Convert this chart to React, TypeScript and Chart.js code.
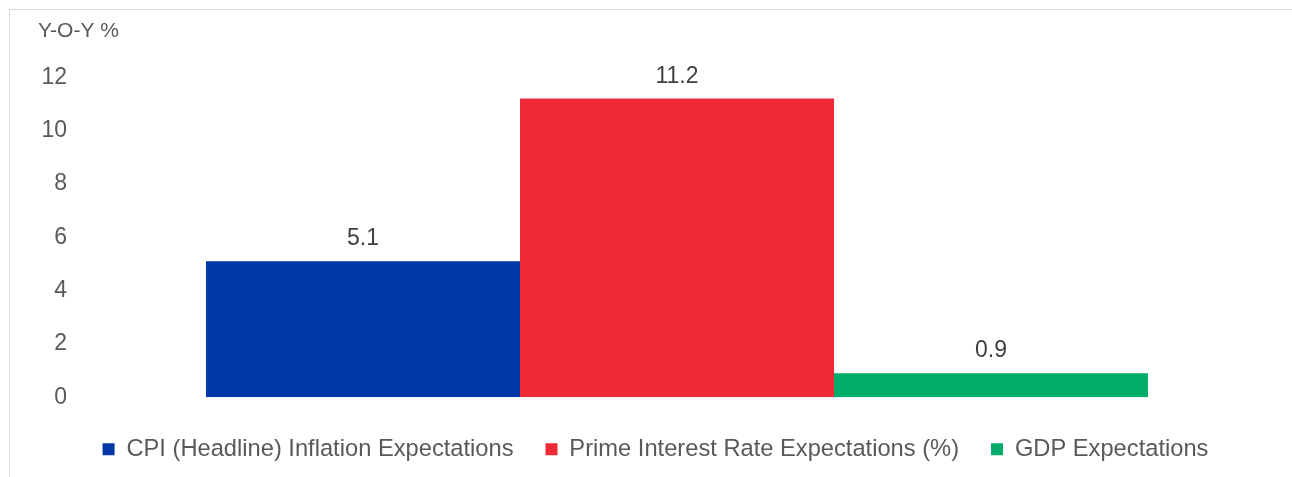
import React, { useEffect, useRef } from "react";
import { Chart, registerables } from "chart.js";

Chart.register(...registerables);

const categories: string[] = [""];
const seriesNames: string[] = [
  "CPI (Headline) Inflation Expectations",
  "Prime Interest Rate Expectations (%)",
  "GDP Expectations",
];
const cpiValues: number[] = [5.1];
const primeValues: number[] = [11.2];
const gdpValues: number[] = [0.9];
const seriesColors: string[] = ["#0038A8", "#EE2A36", "#00AC6A"];
const yTickValues: number[] = [0, 2, 4, 6, 8, 10, 12];
const unitLabel = "Y-O-Y %";

const FONT = "'Liberation Sans', Arial, sans-serif";

const dataLabelPlugin = {
  id: "dataLabels",
  afterDatasetsDraw(chart: any) {
    const ctx = chart.ctx;
    ctx.save();
    ctx.font = `23px ${FONT}`;
    ctx.fillStyle = "#404040";
    ctx.textAlign = "center";
    ctx.textBaseline = "alphabetic";
    chart.data.datasets.forEach((ds: any, i: number) => {
      const meta = chart.getDatasetMeta(i);
      meta.data.forEach((el: any, j: number) => {
        const v = ds.data[j];
        ctx.fillText(String(v), el.x, el.y - 16);
      });
    });
    ctx.restore();
  },
};

export default function App() {
  const ref = useRef<HTMLCanvasElement | null>(null);

  useEffect(() => {
    if (!ref.current) return;
    const valueSets = [cpiValues, primeValues, gdpValues];
    const chart = new Chart(ref.current, {
      type: "bar",
      data: {
        labels: categories,
        datasets: seriesNames.map((name, i) => ({
          label: name,
          data: valueSets[i],
          backgroundColor: seriesColors[i],
          borderWidth: 0,
          categoryPercentage: 0.7903,
          barPercentage: 1,
        })),
      },
      options: {
        animation: false,
        responsive: false,
        maintainAspectRatio: false,
        events: [],
        layout: { padding: { left: 28, right: 20, top: 0, bottom: 19 } },
        font: { family: FONT },
        scales: {
          x: {
            display: true,
            grid: { display: false, drawTicks: false },
            border: { display: false },
            ticks: { display: false },
            afterFit: (s: any) => {
              s.height = 8;
            },
          },
          y: {
            min: 0,
            max: 12,
            afterBuildTicks: (s: any) => {
              s.ticks = yTickValues.map((v) => ({ value: v }));
            },
            grid: { display: false, drawTicks: false },
            border: { display: false },
            ticks: {
              padding: 14,
              color: "#595959",
              font: { family: FONT, size: 23 },
            },
            afterFit: (s: any) => {
              s.width = 43;
            },
          },
        },
        plugins: {
          title: {
            display: true,
            text: unitLabel,
            align: "start",
            color: "#595959",
            font: { family: FONT, size: 21, weight: "normal" },
            padding: { top: 9, bottom: 33 },
          },
          legend: {
            display: true,
            position: "bottom",
            labels: {
              boxWidth: 12,
              boxHeight: 12,
              padding: 32,
              color: "#595959",
              font: { family: FONT, size: 23.7 },
            },
          },
          tooltip: { enabled: false },
        },
      },
      plugins: [dataLabelPlugin],
    } as any);
    return () => chart.destroy();
  }, []);

  return (
    <div style={{ position: "fixed", inset: 0, overflow: "hidden", background: "#fff" }}>
      <div
        style={{
          position: "absolute",
          left: 9,
          top: 9,
          width: 1283,
          height: 480,
          border: "1px solid #d9d9d9",
        }}
      >
        <canvas ref={ref} width={1283} height={480} style={{ display: "block", width: 1283, height: 480 }} />
      </div>
    </div>
  );
}
